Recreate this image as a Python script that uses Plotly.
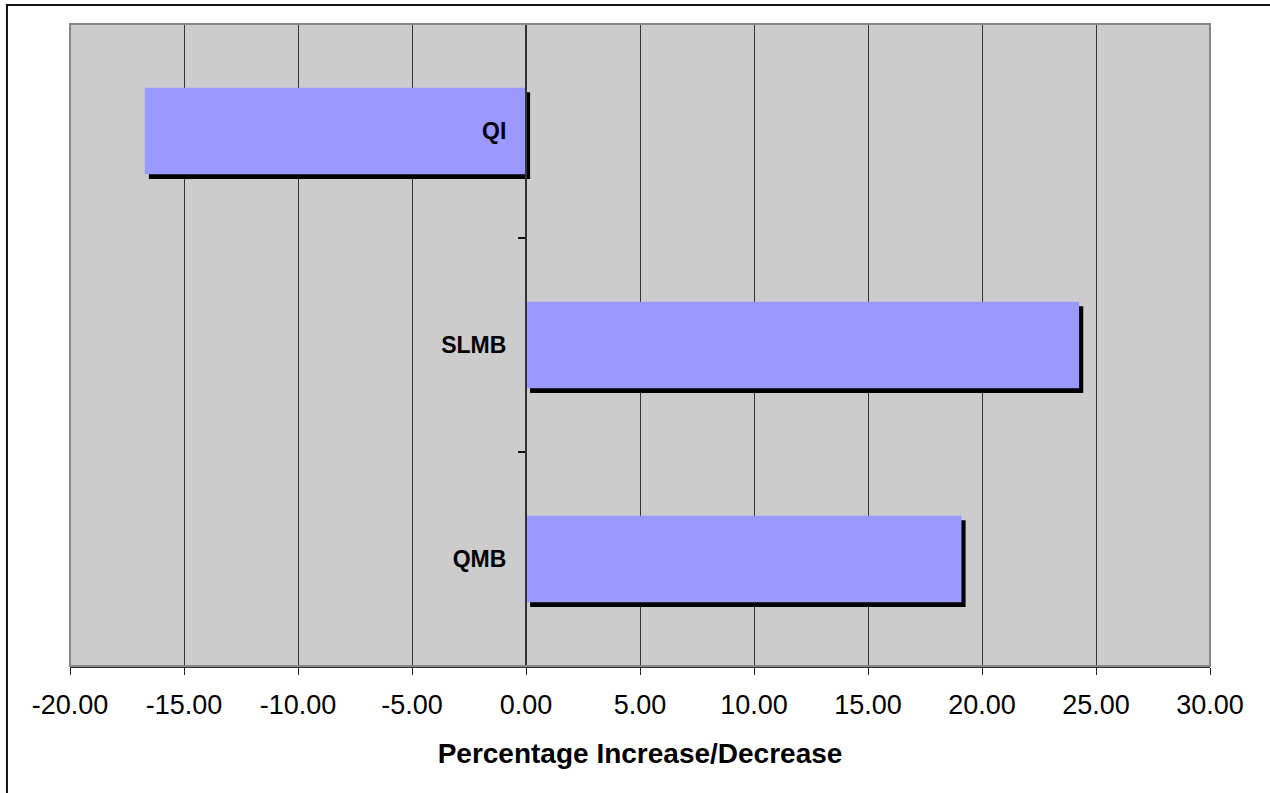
import plotly.graph_objects as go

# Data
categories = ["QI", "SLMB", "QMB"]
values = [-16.72, 24.26, 19.10]
x_tick_values = [-20, -15, -10, -5, 0, 5, 10, 15, 20, 25, 30]
x_tick_labels = [f"{v:.2f}" for v in x_tick_values]
x_title = "Percentage Increase/Decrease"

FONT = "Arial, Liberation Sans, sans-serif"
BAR_W = 0.405
SHADOW_DX = 0.18      # data units (~4 px)
SHADOW_DY = 0.022     # category units (~5 px)

fig = go.Figure()

# shadow
fig.add_trace(go.Bar(
    y=categories, x=values, base=[SHADOW_DX] * len(values),
    orientation="h", width=BAR_W, offset=-BAR_W / 2 - SHADOW_DY,
    marker=dict(color="#000000", line=dict(width=0)),
    hoverinfo="skip", showlegend=False,
))
# bars
fig.add_trace(go.Bar(
    y=categories, x=values,
    orientation="h", width=BAR_W, offset=-BAR_W / 2,
    marker=dict(color="#9999FF", line=dict(width=0)),
    showlegend=False,
))

fig.update_layout(
    width=1270, height=793,
    margin=dict(l=70, r=60, t=24, b=127),
    paper_bgcolor="white",
    plot_bgcolor="#CCCCCC",
    barmode="overlay",
    font=dict(family=FONT, color="black"),
    xaxis=dict(
        range=[-20, 30],
        tickvals=x_tick_values,
        ticktext=x_tick_labels,
        tickfont=dict(size=27, family=FONT, color="black"),
        ticks="outside", ticklen=7, tickcolor="#222222", tickwidth=1,
        ticklabelstandoff=7,
        showgrid=True, gridcolor="#333333", gridwidth=1,
        zeroline=False,
        showline=True, linecolor="#333333", linewidth=2,
        title=dict(text=x_title, font=dict(size=28, family=FONT, weight="bold"), standoff=24),
        fixedrange=True,
    ),
    yaxis=dict(
        type="category",
        categoryorder="array",
        categoryarray=categories[::-1],
        range=[-0.5, 2.5],
        anchor="free", position=0.4,
        ticks="outside", ticklen=7, tickcolor="#111111", tickwidth=2,
        tickson="boundaries",
        tickfont=dict(size=23, family=FONT, weight="bold", color="black"),
        ticklabelstandoff=14,
        showgrid=False, zeroline=False,
        showline=True, linecolor="#333333", linewidth=2,
        fixedrange=True,
    ),
    shapes=[
        # plot-area border
        dict(type="rect", xref="paper", yref="paper", x0=0, x1=1, y0=0, y1=1,
             line=dict(color="#888888", width=2), layer="above"),
        # outer chart frame
        dict(type="rect", xref="paper", yref="paper",
             x0=-0.0553, x1=1.3, y0=-0.5, y1=1.0296,
             line=dict(color="#111111", width=2), layer="above"),
    ],
)

fig.write_html(
    "out.html",
    config={"displayModeBar": False},
    post_script="document.body.style.margin='0px';document.body.style.padding='0px';",
)
